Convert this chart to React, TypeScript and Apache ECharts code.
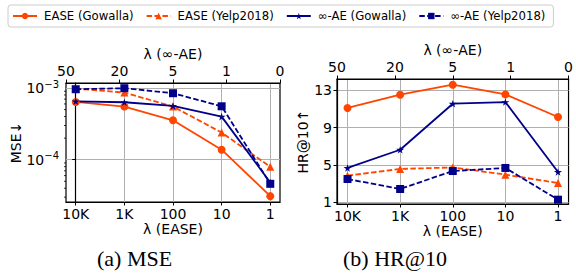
import React, { useEffect, useRef } from 'react';
import * as echarts from 'echarts';

const categories = ['10K', '1K', '100', '10', '1'];
const topLabels = ['50', '20', '5', '1', '0'];
const seriesNames = ['EASE (Gowalla)', 'EASE (Yelp2018)', '∞-AE (Gowalla)', '∞-AE (Yelp2018)'];

const mseEaseGowalla = [6.39e-4, 5.51e-4, 3.55e-4, 1.38e-4, 3.1e-5];
const mseEaseYelp = [9.8e-4, 8.65e-4, 5.51e-4, 2.39e-4, 7.97e-5];
const mseAeGowalla = [6.53e-4, 6.33e-4, 5.62e-4, 3.99e-4, 4.8e-5];
const mseAeYelp = [9.62e-4, 9.94e-4, 8.46e-4, 5.56e-4, 4.61e-5];

const hrEaseGowalla = [11.11, 12.54, 13.61, 12.57, 10.14];
const hrEaseYelp = [3.83, 4.55, 4.72, 3.94, 3.04];
const hrAeGowalla = [4.66, 6.62, 11.57, 11.75, 4.23];
const hrAeYelp = [3.47, 2.4, 4.33, 4.66, 1.25];

const hrTicks = [1, 5, 9, 13];
const mseMinorTicks = [3e-5, 4e-5, 5e-5, 6e-5, 7e-5, 8e-5, 9e-5, 2e-4, 3e-4, 4e-4, 5e-4, 6e-4, 7e-4, 8e-4, 9e-4];

const ORANGE = '#FF4500';
const NAVY = '#00008B';
const FONT = 'DejaVu Sans';
const STAR = 'path://M50,0 L61,35 L98,35 L68,57 L79,91 L50,70 L21,91 L32,57 L2,35 L39,35 Z';

const X_MIN = -0.2;
const X_MAX = 4.2;
const idx = [0, 1, 2, 3, 4];

function mkSeries(name: string, values: number[], grid: number, color: string, symbol: string, size: number, dashed: boolean) {
  return {
    name,
    type: 'line',
    xAxisIndex: grid * 2,
    yAxisIndex: grid,
    data: values.map((v, i) => [i, v]),
    symbol,
    symbolSize: size,
    symbolKeepAspect: true,
    lineStyle: { color, width: 1.8, type: dashed ? [5.5, 2.4] : 'solid' },
    itemStyle: { color },
    emphasis: { disabled: true },
  };
}

function bottomAxis(grid: number) {
  return {
    type: 'value',
    gridIndex: grid,
    position: 'bottom',
    min: X_MIN,
    max: X_MAX,
    name: 'λ (EASE)',
    nameLocation: 'middle',
    nameGap: 20,
    nameTextStyle: { fontFamily: FONT, fontSize: 14, color: '#000' },
    axisLine: { show: true, onZero: false, lineStyle: { color: '#000', width: 1.2 } },
    axisTick: { show: true, inside: false, length: 3.5, customValues: idx, lineStyle: { color: '#000', width: 1 } },
    axisLabel: {
      customValues: idx,
      margin: 5,
      fontFamily: FONT,
      fontSize: 14,
      color: '#000',
      formatter: (v: number) => categories[Math.round(v)] ?? '',
    },
    splitLine: { show: true, lineStyle: { color: '#b0b0b0', width: 1 } },
  };
}

function topAxis(grid: number) {
  return {
    type: 'value',
    gridIndex: grid,
    position: 'top',
    min: 0,
    max: 4,
    interval: 1,
    name: 'λ (∞-AE)',
    nameLocation: 'middle',
    nameGap: 22,
    nameTextStyle: { fontFamily: FONT, fontSize: 14, color: '#000' },
    axisLine: { show: true, onZero: false, lineStyle: { color: '#000', width: 1.2 } },
    axisTick: { show: true, inside: false, length: 3.5, lineStyle: { color: '#000', width: 1 } },
    axisLabel: {
      margin: 5,
      fontFamily: FONT,
      fontSize: 14,
      color: '#000',
      formatter: (v: number) => topLabels[Math.round(v)] ?? '',
    },
    splitLine: { show: false },
  };
}

export default function App() {
  const ref = useRef<HTMLDivElement>(null);
  useEffect(() => {
    document.body.style.margin = '0';
    if (!ref.current) return;
    const chart = echarts.init(ref.current, undefined, { renderer: 'svg' });
    const option: any = {
      animation: false,
      backgroundColor: '#fff',
      textStyle: { fontFamily: FONT },
      legend: {
        data: seriesNames,
        left: 8,
        top: 5,
        width: 560,
        orient: 'horizontal',
        padding: [5, 8, 5, 4],
        itemWidth: 24,
        itemHeight: 8,
        itemGap: 12,
        borderColor: '#cccccc',
        borderWidth: 1,
        borderRadius: 3,
        textStyle: { fontFamily: FONT, fontSize: 11.7, color: '#000', padding: [0, 0, 0, 2] },
      },
      grid: [
        { left: 66, top: 83, width: 214, height: 119, show: true, borderColor: '#000', borderWidth: 1.2, backgroundColor: 'transparent' },
        { left: 337, top: 79, width: 236, height: 125, show: true, borderColor: '#000', borderWidth: 1.2, backgroundColor: 'transparent' },
      ],
      xAxis: [bottomAxis(0), topAxis(0), bottomAxis(1), topAxis(1)],
      yAxis: [
        {
          type: 'log',
          gridIndex: 0,
          logBase: 10,
          min: 2.57e-5,
          max: 1.175e-3,
          name: 'MSE↓',
          nameLocation: 'middle',
          nameGap: 42,
          nameTextStyle: { fontFamily: FONT, fontSize: 14, color: '#000' },
          axisLine: { show: true, lineStyle: { color: '#000', width: 1.2 } },
          axisTick: { show: true, length: 3.5, lineStyle: { color: '#000', width: 1 } },
          axisLabel: {
            margin: 7,
            color: '#000',
            formatter: (v: number) => {
              const e = Math.log10(v);
              if (Math.abs(e - Math.round(e)) > 1e-6) return '';
              return `{b|10}{s|−${-Math.round(e)}}`;
            },
            rich: {
              b: { fontFamily: FONT, fontSize: 14, color: '#000' },
              s: { fontFamily: FONT, fontSize: 10, color: '#000', padding: [0, 0, 8, 0] },
            },
          },
          splitLine: { show: true, lineStyle: { color: '#b0b0b0', width: 1 } },
        },
        {
          type: 'value',
          gridIndex: 1,
          min: 0.785,
          max: 14.226,
          name: 'HR@10↑',
          nameLocation: 'middle',
          nameGap: 26,
          nameTextStyle: { fontFamily: FONT, fontSize: 14, color: '#000' },
          axisLine: { show: true, onZero: false, lineStyle: { color: '#000', width: 1.2 } },
          axisTick: { show: true, length: 3.5, customValues: hrTicks, lineStyle: { color: '#000', width: 1 } },
          axisLabel: { customValues: hrTicks, margin: 5, fontFamily: FONT, fontSize: 14, color: '#000' },
          splitLine: { show: true, lineStyle: { color: '#b0b0b0', width: 1 } },
        },
      ],
      series: [
        mkSeries(seriesNames[0], mseEaseGowalla, 0, ORANGE, 'circle', 8, false),
        mkSeries(seriesNames[1], mseEaseYelp, 0, ORANGE, 'triangle', 8, true),
        mkSeries(seriesNames[2], mseAeGowalla, 0, NAVY, STAR, 8, false),
        mkSeries(seriesNames[3], mseAeYelp, 0, NAVY, 'rect', 8, true),
        mkSeries(seriesNames[0], hrEaseGowalla, 1, ORANGE, 'circle', 8, false),
        mkSeries(seriesNames[1], hrEaseYelp, 1, ORANGE, 'triangle', 8, true),
        mkSeries(seriesNames[2], hrAeGowalla, 1, NAVY, STAR, 8, false),
        mkSeries(seriesNames[3], hrAeYelp, 1, NAVY, 'rect', 8, true),
        {
          type: 'custom',
          xAxisIndex: 0,
          yAxisIndex: 0,
          silent: true,
          clip: false,
          data: mseMinorTicks.map((v) => [X_MIN, v]),
          renderItem: (params: any, api: any) => {
            const p = api.coord([api.value(0), api.value(1)]);
            return {
              type: 'line',
              shape: { x1: p[0], y1: p[1], x2: p[0] - 2, y2: p[1] },
              style: { stroke: '#000', lineWidth: 0.8 },
            };
          },
        },
      ],
      graphic: [
        { type: 'text', left: 97, top: 247, style: { text: '(a) MSE', font: '22px "Liberation Serif"', fill: '#000' } },
        { type: 'text', left: 343, top: 247, style: { text: '(b) HR@10', font: '22px "Liberation Serif"', fill: '#000' } },
      ],
    };
    chart.setOption(option);
    return () => chart.dispose();
  }, []);
  return <div ref={ref} style={{ width: 576, height: 278 }} />;
}
